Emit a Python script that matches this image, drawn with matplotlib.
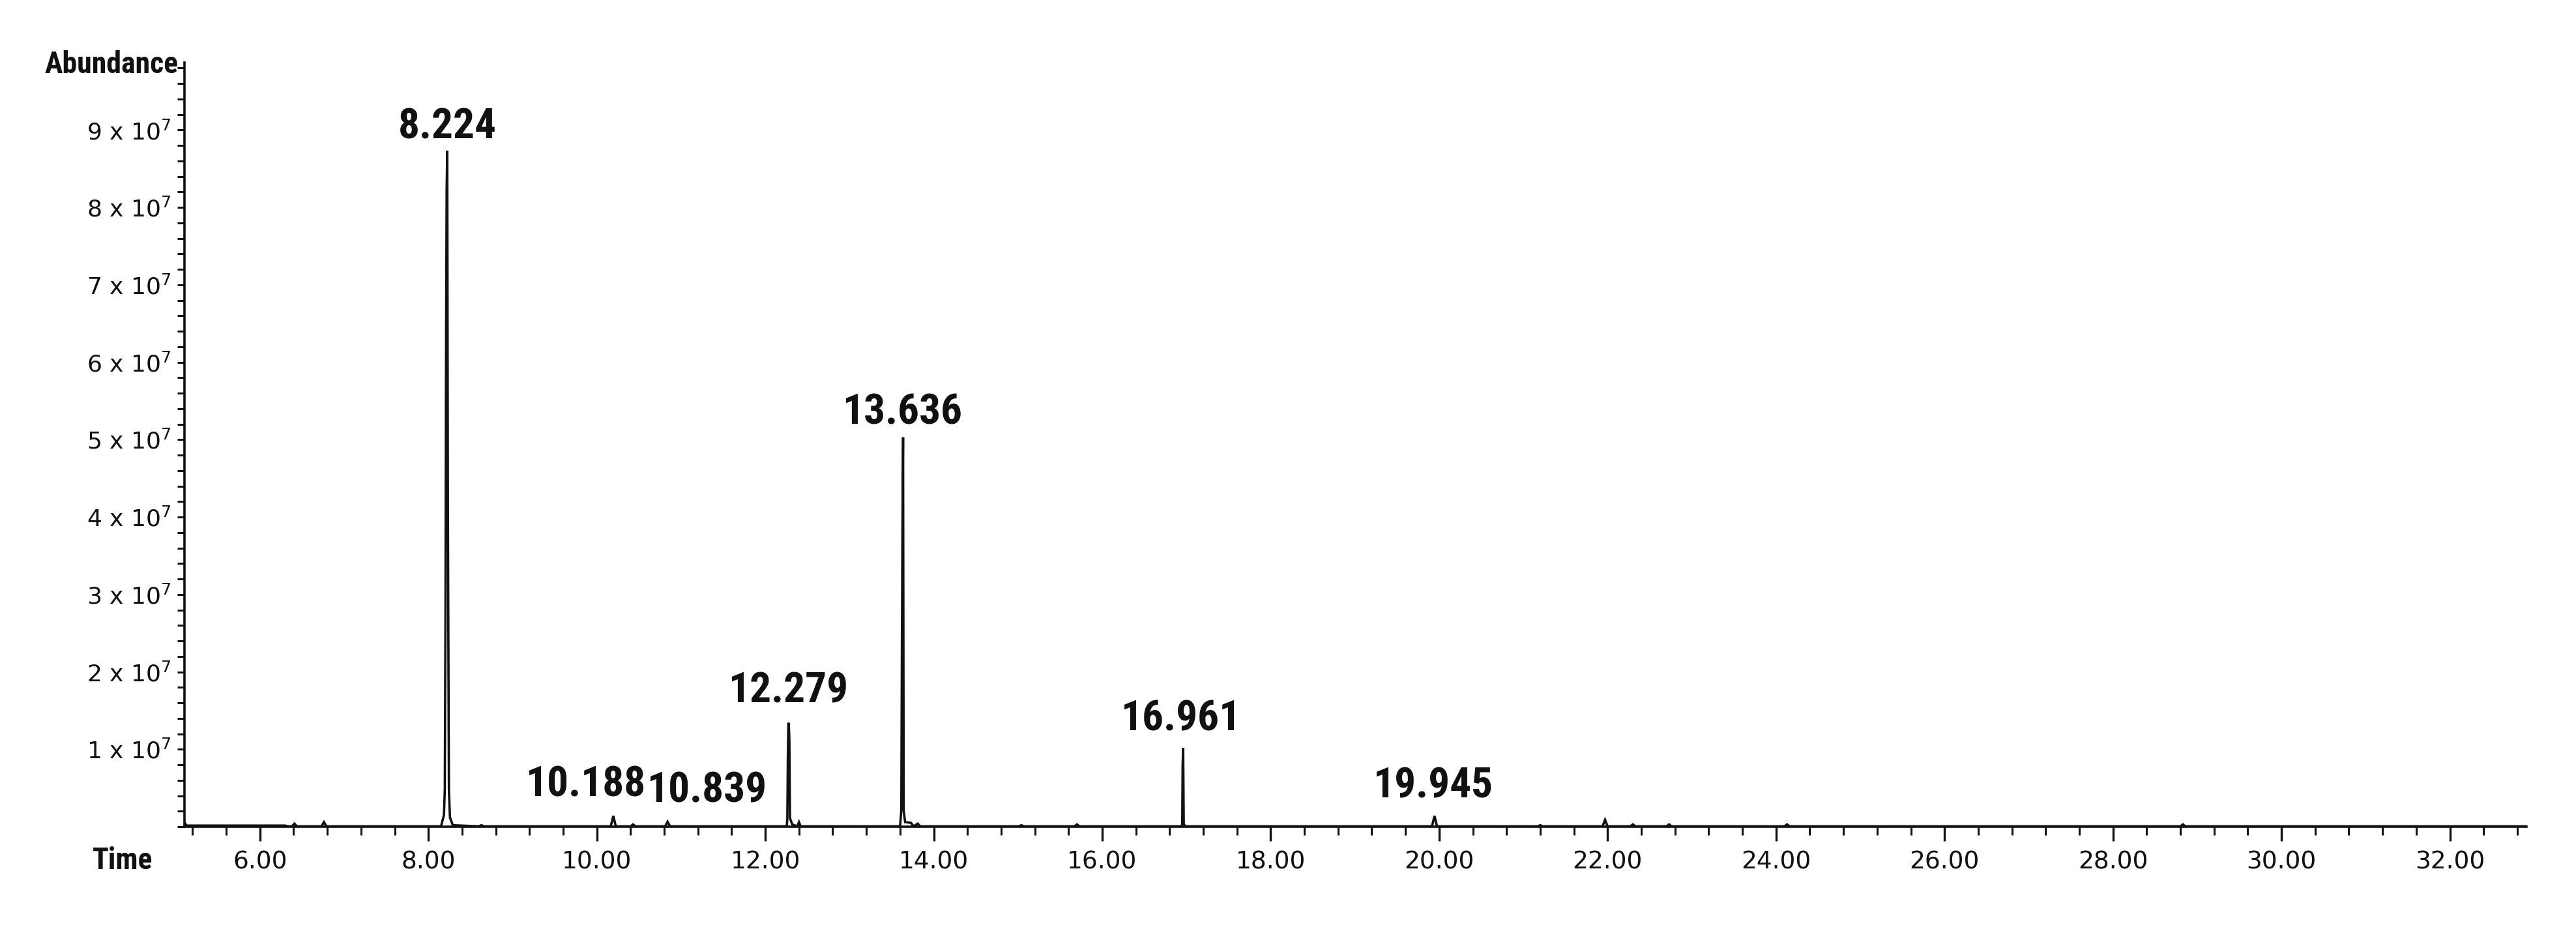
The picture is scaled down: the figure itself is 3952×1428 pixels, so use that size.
import matplotlib
matplotlib.use('Agg')
import matplotlib.pyplot as plt
from matplotlib import font_manager
from matplotlib.ticker import MultipleLocator, FixedLocator, FuncFormatter

# ── Data ─────────────────────────────────────────────────────────────────────
TIME = [5.100, 5.130, 6.300, 6.330,
        6.380, 6.410, 6.440, 6.730, 6.760, 6.790,
        8.150, 8.185, 8.195, 8.203, 8.210, 8.217, 8.224, 8.232, 8.244, 8.256, 8.290,
        8.600, 8.630, 8.660,
        10.165, 10.196, 10.225, 10.400, 10.430, 10.460, 10.810, 10.840, 10.870,
        12.255, 12.262, 12.268, 12.274, 12.279, 12.286, 12.293, 12.320,
        12.380, 12.400, 12.420,
        13.600, 13.615, 13.622, 13.629, 13.636, 13.643, 13.660,
        13.730, 13.760, 13.810, 13.840,
        15.010, 15.040, 15.070, 15.670, 15.700, 15.730,
        16.940, 16.950, 16.955, 16.961, 16.968, 16.990,
        19.915, 19.945, 19.975,
        21.170, 21.200, 21.230, 21.940, 21.970, 22.000, 22.270, 22.300, 22.330,
        22.700, 22.730, 22.760, 24.100, 24.130, 24.160,
        28.800, 28.830, 28.860, 32.910]
ABUNDANCE = [6.0e5, 1.5e5, 1.5e5, 5.0e4,
             5.0e4, 4.0e5, 5.0e4, 5.0e4, 6.0e5, 5.0e4,
             5.0e4, 1.5e6, 4.8e6, 2.67e7, 6.13e7, 8.24e7, 8.73e7, 4.05e7, 4.8e6, 1.2e6, 2.0e5,
             5.0e4, 2.0e5, 5.0e4,
             5.0e4, 1.4e6, 5.0e4, 5.0e4, 3.0e5, 5.0e4, 5.0e4, 6.5e5, 5.0e4,
             5.0e4, 1.1e6, 9.3e6, 1.33e7, 1.33e7, 1.11e7, 1.1e6, 3.0e5,
             5.0e4, 6.0e5, 5.0e4,
             5.0e4, 2.1e6, 2.36e7, 3.94e7, 5.03e7, 2.1e6, 6.0e5,
             5.0e5, 5.0e4, 4.0e5, 5.0e4,
             5.0e4, 2.0e5, 5.0e4, 5.0e4, 3.0e5, 5.0e4,
             5.0e4, 3.0e5, 8.0e6, 1.02e7, 3.0e5, 5.0e4,
             5.0e4, 1.4e6, 5.0e4,
             5.0e4, 2.0e5, 5.0e4, 5.0e4, 9.0e5, 5.0e4, 5.0e4, 3.0e5, 5.0e4,
             5.0e4, 3.0e5, 5.0e4, 5.0e4, 3.0e5, 5.0e4,
             5.0e4, 3.0e5, 5.0e4, 5.0e4]

# peak labels: text, x, y of label centre
PEAK_LABELS = ['8.224', '10.188', '10.839', '12.279', '13.636', '16.961', '19.945']
LABEL_X = [8.224, 9.87, 11.31, 12.279, 13.636, 16.935, 19.93]
LABEL_Y = [9.04e7, 0.54e7, 0.46e7, 1.75e7, 5.35e7, 1.39e7, 0.52e7]

X_MAJOR = [6, 8, 10, 12, 14, 16, 18, 20, 22, 24, 26, 28, 30, 32]
Y_MAJOR = [1e7, 2e7, 3e7, 4e7, 5e7, 6e7, 7e7, 8e7, 9e7]

# ── Style ────────────────────────────────────────────────────────────────────
INK = '#111111'

# pick the narrowest bold face that is installed
_names = {f.name for f in font_manager.fontManager.ttflist}
COND_OPTIONS = [('Roboto Condensed', 23.5, 16.5),
                ('Liberation Sans Narrow', 22, 15),
                ('Open Sans Condensed', 23, 15.5),
                ('DejaVu Sans', 18, 13)]
COND, LABEL_FS, TITLE_FS = next(o for o in COND_OPTIONS if o[0] in _names)
STRETCH = 'condensed'

fig = plt.figure(figsize=(19.76, 7.14), dpi=200)
fig.patch.set_facecolor('white')
ax = fig.add_axes([0.0716, 0.1120, 0.9092, 0.8207])

ax.plot(TIME, ABUNDANCE, color=INK, lw=1.3, solid_joinstyle='miter', zorder=3)

ax.set_xlim(5.104, 32.91)
ax.set_ylim(0, 9.87e7)

for s in ('top', 'right'):
    ax.spines[s].set_visible(False)
for s in ('left', 'bottom'):
    ax.spines[s].set_linewidth(1.3)
    ax.spines[s].set_color(INK)

ax.xaxis.set_major_locator(FixedLocator(X_MAJOR))
ax.xaxis.set_minor_locator(MultipleLocator(0.4))
ax.xaxis.set_major_formatter(FuncFormatter(lambda v, p: f'{v:.2f}'))
ax.yaxis.set_major_locator(FixedLocator(Y_MAJOR))
ax.yaxis.set_minor_locator(MultipleLocator(2e6))
ax.yaxis.set_major_formatter(
    FuncFormatter(lambda v, p: f'{int(round(v / 1e7))} x 10$^7$'))

ax.tick_params(axis='x', which='major', length=8, width=1.2, pad=5,
               labelsize=13.5, colors=INK)
ax.tick_params(axis='x', which='minor', length=4.5, width=1.1, colors=INK)
ax.tick_params(axis='y', which='both', length=3.8, width=1.1, pad=3.5,
               labelsize=13, colors=INK)

# peak labels
for txt, lx, ly in zip(PEAK_LABELS, LABEL_X, LABEL_Y):
    ax.text(lx, ly, txt, ha='center', va='center', fontsize=LABEL_FS,
            fontweight='bold', family=COND, fontstretch=STRETCH,
            color=INK, zorder=5)

# axis titles
fig.text(274 / 3952, 1 - 99 / 1428, 'Abundance', ha='right', va='center',
         fontsize=TITLE_FS, fontweight='bold', family=COND,
         fontstretch=STRETCH, color=INK)
fig.text(234 / 3952, 1 - 1320 / 1428, 'Time', ha='right', va='center',
         fontsize=TITLE_FS, fontweight='bold', family=COND,
         fontstretch=STRETCH, color=INK)

fig.savefig('out.png', dpi=200, facecolor='white')
plt.close(fig)
